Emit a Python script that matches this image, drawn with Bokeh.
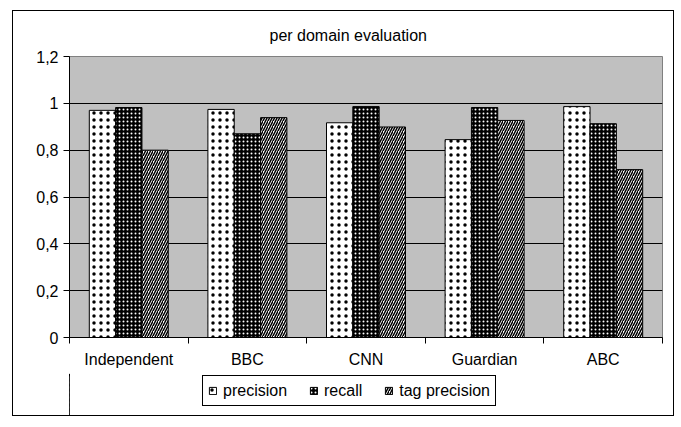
from bokeh.plotting import figure
from bokeh.layouts import column
from bokeh.models import (FixedTicker, Legend, LegendItem, Range1d,
                          LinearAxis, ColumnDataSource, Grid)
from bokeh.transform import dodge
from bokeh.embed import file_html
from bokeh.resources import INLINE

# ---- data ----
categories = ["Independent", "BBC", "CNN", "Guardian", "ABC"]
precision = [0.970, 0.974, 0.917, 0.845, 0.986]
recall = [0.982, 0.870, 0.986, 0.982, 0.913]
tag_precision = [0.800, 0.939, 0.899, 0.927, 0.717]
series_names = ["precision", "recall", "tag precision"]
y_ticks = [0, 0.2, 0.4, 0.6, 0.8, 1.0, 1.2]
y_tick_labels = ["0", "0,2", "0,4", "0,6", "0,8", "1", "1,2"]
title_text = "per domain evaluation"

FONT = "Liberation Sans"
n = len(categories)

# bar styles (fill / hatch) for the three series
styles = [
    dict(fill_color="white", hatch_pattern="dot", hatch_color="black",
         hatch_scale=7, hatch_weight=0.5),
    dict(fill_color="black", hatch_pattern="dot", hatch_color="white",
         hatch_scale=4, hatch_weight=0.6),
    dict(fill_color="white", hatch_pattern="right_diagonal_line", hatch_color="black",
         hatch_scale=5, hatch_weight=1.5),
]

src = ColumnDataSource(dict(x=list(range(n)), precision=precision,
                            recall=recall, tag=tag_precision))

p = figure(frame_width=593, frame_height=281, output_backend="svg", toolbar_location=None,
           x_range=Range1d(-0.5, n - 0.5), y_range=Range1d(0, 1.2),
           x_axis_type=None, y_axis_type=None,
           min_border_left=56, min_border_right=11, min_border_top=45,
           min_border_bottom=36)

p.background_fill_color = "#C0C0C0"
p.border_fill_color = "white"
p.outline_line_color = "#808080"
p.outline_line_width = 1

# title
p.title.text = title_text
p.title.align = "left"
p.title.offset = 200
p.title.vertical_align = "top"
p.title.standoff = 22
p.title.text_font = FONT
p.title.text_font_size = "16px"
p.title.text_font_style = "normal"
p.title.text_color = "black"

# y axis
yaxis = LinearAxis(ticker=FixedTicker(ticks=y_ticks),
                   major_label_overrides={v: s for v, s in zip(y_ticks, y_tick_labels)})
yaxis.axis_line_color = "black"
yaxis.major_tick_line_color = "black"
yaxis.major_tick_in = 0
yaxis.major_tick_out = 6
yaxis.minor_tick_line_color = None
yaxis.major_label_standoff = 5
yaxis.major_label_text_font = FONT
yaxis.major_label_text_font_size = "16px"
yaxis.major_label_text_color = "black"
p.add_layout(yaxis, "left")

# x axis: labels at centres, ticks at boundaries (minor ticks)
centers = list(range(n))
bounds = [i - 0.5 for i in range(n + 1)]
xaxis = LinearAxis(ticker=FixedTicker(ticks=centers, minor_ticks=bounds),
                   major_label_overrides={c: s for c, s in zip(centers, categories)})
xaxis.axis_line_color = "black"
xaxis.major_tick_line_color = None
xaxis.major_tick_in = 0
xaxis.major_tick_out = 0
xaxis.minor_tick_line_color = "black"
xaxis.minor_tick_in = 0
xaxis.minor_tick_out = 6
xaxis.major_label_standoff = 7
xaxis.major_label_text_font = FONT
xaxis.major_label_text_font_size = "16px"
xaxis.major_label_text_color = "black"
p.add_layout(xaxis, "below")

# horizontal grid lines
p.add_layout(Grid(dimension=1, ticker=FixedTicker(ticks=y_ticks),
                  grid_line_color="black", grid_line_width=1))

bw = 0.222
cols = ["precision", "recall", "tag"]
offsets = [-bw, 0, bw]
for col, off, st in zip(cols, offsets, styles):
    p.vbar(x=dodge("x", off, range=p.x_range), top=col, width=bw, source=src,
           line_color="black", line_width=1, **st)

# ---- legend strip (separate small figure below the chart) ----
# its ranges keep the proxy bars out of view; only the legend is visible
lg = figure(width=660, height=42, output_backend="svg", toolbar_location=None,
            x_range=Range1d(n + 10, n + 11), y_range=Range1d(0, 1),
            x_axis_type=None, y_axis_type=None, min_border=0)
lg.outline_line_color = None
lg.background_fill_color = "white"
lg.border_fill_color = "white"
items = []
for name, col, st in zip(series_names, cols, styles):
    r = lg.vbar(x="x", top=col, width=bw, source=src,
                line_color="black", line_width=1, **st)
    items.append(LegendItem(label=name, renderers=[r], index=0))

legend = Legend(items=items, orientation="horizontal", location=(133, 9),
                label_text_font=FONT, label_text_font_size="16px",
                label_text_color="black", label_height=19,
                glyph_width=9, glyph_height=9, label_standoff=6, spacing=22,
                padding=5, margin=0, border_line_color="black",
                border_line_width=1, border_line_alpha=1,
                background_fill_color="white", background_fill_alpha=1)
lg.add_layout(legend, "center")

layout = column(p, lg, spacing=0, margin=(10, 0, 0, 12),
                styles={"border": "1px solid black", "background": "white"})

open("out.html", "w").write(file_html(layout, INLINE))
